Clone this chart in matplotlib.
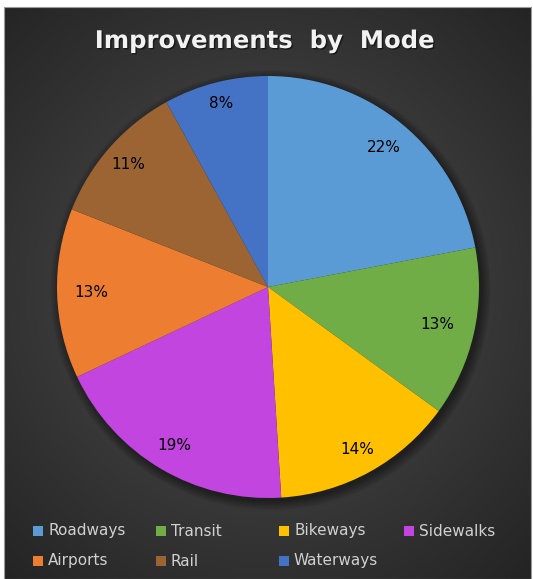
import numpy as np
import matplotlib.pyplot as plt
from matplotlib.patches import Rectangle, Circle
import matplotlib.patheffects as pe

# Datos del gráfico
modos = ['Roadways', 'Transit', 'Bikeways', 'Sidewalks', 'Airports', 'Rail', 'Waterways']
porcentajes = [22, 13, 14, 19, 13, 11, 8]
colores = ['#5B9BD5', '#70AD47', '#FFC000', '#C245E0', '#ED7D31', '#9C6433', '#4472C4']
# distancia radial de cada etiqueta (fracción del radio)
dist_etiquetas = [0.86, 0.82, 0.88, 0.87, 0.84, 0.88, 0.90]

W, H = 533, 579
fig = plt.figure(figsize=(W / 100, H / 100), dpi=100, facecolor='white')

# Fondo oscuro con degradado radial
bg = fig.add_axes([4 / W, 0, 527 / W, 572 / H])
cx, cy = 264, 287
yy, xx = np.mgrid[7:579, 4:531]
d = np.hypot(xx - cx, yy - cy)
t = np.clip(d / 390, 0, 1)
gris = (0x50 + (0x24 - 0x50) * t) / 255
img = np.dstack([gris, gris, gris])
bg.imshow(img, aspect='auto', extent=[0, 1, 0, 1], origin='upper')
bg.set_xticks([])
bg.set_yticks([])
for s in bg.spines.values():
    s.set_color('#9a9a9a')
    s.set_linewidth(0.8)

# Eje del pastel (cuadrado en píxeles)
R = 211
ax = fig.add_axes([(268 - R) / W, (H - 287 - R) / H, 2 * R / W, 2 * R / H])

# Sombra suave alrededor del pastel
for i in range(8):
    ax.add_patch(Circle((0.012, -0.015), 1.0 + 0.006 * i, color='black',
                        alpha=0.06, zorder=0, lw=0, clip_on=False))

wedges, _ = ax.pie(porcentajes, colors=colores, startangle=90, counterclock=False,
                   radius=1.0, wedgeprops=dict(linewidth=0))
for w in wedges:
    w.set_zorder(2)
ax.set_xlim(-1, 1)
ax.set_ylim(-1, 1)
ax.axis('off')

# Etiquetas de porcentaje
acum = 0
for p, r in zip(porcentajes, dist_etiquetas):
    ang = np.deg2rad(90 - (acum + p / 2) * 3.6)
    ax.text(r * np.cos(ang), r * np.sin(ang), f'{p}%', ha='center', va='center',
            fontsize=11, color='black', zorder=3)
    acum += p

# Título
fig.text(264 / W, 1 - 41 / H, 'Improvements  by  Mode', ha='center', va='center',
         fontsize=17.5, fontweight='heavy', color='#f2f2f2',
         path_effects=[pe.withSimplePatchShadow(offset=(1, -1), shadow_rgbFace='black', alpha=0.5)])

# Leyenda en cuadrícula de 4 columnas
col_x = [33, 156, 279, 404]
fila_y = [531, 561]
for i, (m, c) in enumerate(zip(modos, colores)):
    x0 = col_x[i % 4]
    y0 = fila_y[i // 4]
    fig.patches.append(Rectangle((x0 / W, 1 - (y0 + 5) / H), 10 / W, 10 / H,
                                 transform=fig.transFigure, facecolor=c, edgecolor='none'))
    fig.text((x0 + 15) / W, 1 - y0 / H, m, ha='left', va='center',
             fontsize=11, color='#d0d0d0')

fig.savefig('out.png', dpi=100, facecolor=fig.get_facecolor())
